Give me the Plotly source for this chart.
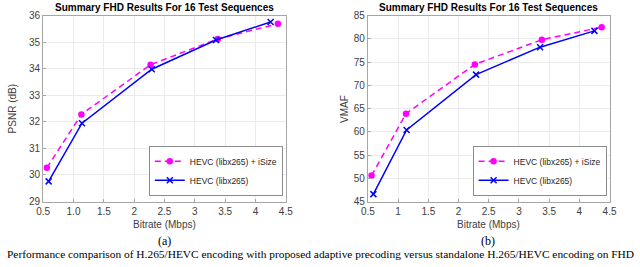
import plotly.graph_objects as go

# ---- data ----
bitrate_isize = [0.56, 1.13, 2.27, 3.38, 4.37]
bitrate_hevc = [0.59, 1.14, 2.29, 3.35, 4.25]
psnr_isize = [30.27, 32.28, 34.15, 35.12, 35.69]
psnr_hevc = [29.76, 31.95, 33.98, 35.08, 35.76]
vmaf_isize = [50.6, 63.9, 74.5, 79.8, 82.5]
vmaf_hevc = [46.6, 60.4, 72.3, 78.2, 81.7]
name_isize = "HEVC (libx265) + iSize"
name_hevc = "HEVC (libx265)"
title_text = "Summary FHD Results For 16 Test Sequences"
x_ticks = [0.5, 1, 1.5, 2, 2.5, 3, 3.5, 4, 4.5]
x_ticklabels_a = ["0.5", "1.0", "1.5", "2", "2.5", "3", "3.5", "4", "4.5"]
x_ticklabels_b = ["0.5", "1", "1.5", "2", "2.5", "3", "3.5", "4", "4.5"]
psnr_ticks = [29, 30, 31, 32, 33, 34, 35, 36]
vmaf_ticks = [45, 50, 55, 60, 65, 70, 75, 80, 85]
caption = ("Performance comparison of H.265/HEVC encoding with proposed adaptive precoding "
           "versus standalone H.265/HEVC encoding on FHD")

W, H = 640, 267
MAG = "#ff00ff"
BLU = "#0000ff"
SANS = "Liberation Sans, Arial, sans-serif"
SERIF = "Liberation Serif, Times New Roman, serif"

def py(p):
    return 1 - p / H

def px(p):
    return p / W

fig = go.Figure()

for i, (ya, yb) in enumerate([(psnr_isize, psnr_hevc), (vmaf_isize, vmaf_hevc)]):
    xa = "x" if i == 0 else "x2"
    yax = "y" if i == 0 else "y2"
    lg = "legend" if i == 0 else "legend2"
    fig.add_trace(go.Scatter(
        x=bitrate_isize, y=ya, name=name_isize, mode="lines+markers",
        line=dict(color=MAG, width=1.5, dash="6px,4px"),
        marker=dict(symbol="circle", size=6.5, color=MAG),
        xaxis=xa, yaxis=yax, legend=lg))
    fig.add_trace(go.Scatter(
        x=bitrate_hevc, y=yb, name=name_hevc, mode="lines+markers",
        line=dict(color=BLU, width=1.5),
        marker=dict(symbol="x-thin-open", size=6, color=BLU, line=dict(color=BLU, width=1.5)),
        xaxis=xa, yaxis=yax, legend=lg))

axis_common = dict(
    showgrid=True, gridcolor="#ebebeb", gridwidth=1,
    showline=True, linecolor="#a6a6a6", linewidth=1, mirror=True,
    ticks="inside", ticklen=3, tickcolor="#a6a6a6",
    tickfont=dict(family=SANS, size=10, color="#404040"),
    zeroline=False, fixedrange=True,
)

ydom = [py(205), py(11)]
legend_common = dict(xanchor="right", yanchor="bottom",
                     bgcolor="white", bordercolor="#8c8c8c", borderwidth=1,
                     font=dict(family=SANS, size=8.5, color="#262626"),
                     itemwidth=30, tracegroupgap=0)
fig.update_layout(
    width=W, height=H,
    margin=dict(l=0, r=0, t=0, b=0),
    paper_bgcolor="white", plot_bgcolor="white",
    showlegend=True,
    xaxis=dict(domain=[px(37), px(285)], range=[0.5, 4.5], tickvals=x_ticks,
               ticktext=x_ticklabels_a, anchor="y", **axis_common),
    yaxis=dict(domain=ydom, range=[29, 36], tickvals=psnr_ticks, anchor="x", **axis_common),
    xaxis2=dict(domain=[px(369), px(616)], range=[0.5, 4.5], tickvals=x_ticks,
                ticktext=x_ticklabels_b, anchor="y2", **axis_common),
    yaxis2=dict(domain=ydom, range=[45, 85], tickvals=vmaf_ticks, anchor="x2", **axis_common),
    legend=dict(x=px(282), y=py(199), **legend_common),
    legend2=dict(x=px(613), y=py(199), **legend_common),
)

annots = []
for cx, lab in [(161, "(a)"), (492, "(b)")]:
    annots.append(dict(x=px(cx), y=py(3), xref="paper", yref="paper", text="<b>" + title_text + "</b>",
                       showarrow=False, xanchor="center", yanchor="middle",
                       font=dict(family=SANS, size=10, color="#000000")))
    annots.append(dict(x=px(cx), y=py(229), xref="paper", yref="paper", text="Bitrate (Mbps)",
                       showarrow=False, xanchor="center", yanchor="middle",
                       font=dict(family=SANS, size=10, color="#404040")))
    annots.append(dict(x=px(cx), y=py(246), xref="paper", yref="paper", text=lab,
                       showarrow=False, xanchor="center", yanchor="middle",
                       font=dict(family=SERIF, size=12, color="#000000")))
annots.append(dict(x=px(6), y=py(108), xref="paper", yref="paper", text="PSNR (dB)", textangle=-90,
                   showarrow=False, xanchor="center", yanchor="middle",
                   font=dict(family=SANS, size=10, color="#404040")))
annots.append(dict(x=px(345), y=py(108), xref="paper", yref="paper", text="VMAF", textangle=-90,
                   showarrow=False, xanchor="center", yanchor="middle",
                   font=dict(family=SANS, size=10, color="#404040")))
annots.append(dict(x=px(320), y=py(260), xref="paper", yref="paper", text=caption,
                   showarrow=False, xanchor="center", yanchor="middle",
                   font=dict(family=SERIF, size=11.4, color="#000000")))
fig.update_layout(annotations=annots)

fig.write_html("out.html", config={"displayModeBar": False},
               post_script="document.body.style.margin='0px';document.body.style.overflow='hidden';")
